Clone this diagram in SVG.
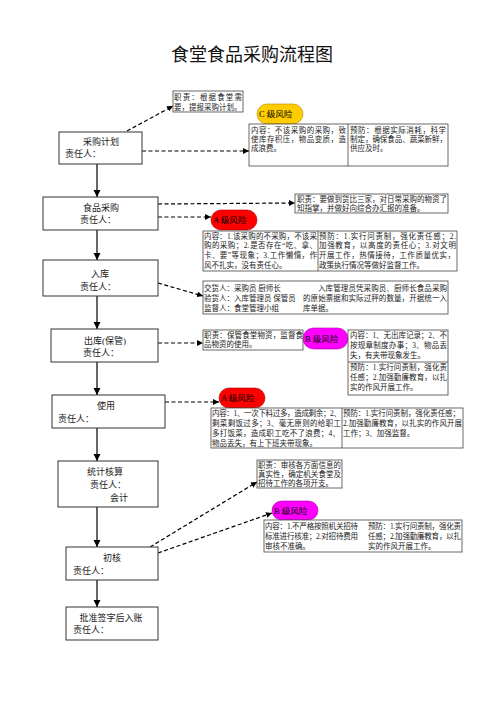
<svg xmlns="http://www.w3.org/2000/svg" width="504" height="713" viewBox="0 0 504 713">
<defs>
<marker id="ah" markerWidth="6" markerHeight="6" refX="6" refY="3" orient="auto" markerUnits="userSpaceOnUse"><path d="M0,0 L6,3 L0,6 z" fill="#000"/></marker>
<marker id="av" markerWidth="8" markerHeight="8" refX="7" refY="4" orient="auto" markerUnits="userSpaceOnUse"><path d="M0,0.5 L7,4 L0,7.5 z" fill="#000"/></marker>
</defs>
<style>
.t{font-family:'Liberation Serif','Noto Sans CJK SC',serif;fill:#222}
.title{font-size:18px;fill:#111}
.lbl{font-size:9px}
.s{font-size:7.5px}
.p{font-size:8.5px;fill:#000}
.box{fill:#fff;stroke:#333;stroke-width:1}
.tbl{fill:#fff;stroke:#444;stroke-width:0.8}
.div{stroke:#444;stroke-width:0.8}
.dash{stroke:#000;stroke-width:1.2;stroke-dasharray:4 2.5;fill:none;marker-end:url(#ah)}
.flow{stroke:#666;stroke-width:2;fill:none;marker-end:url(#av)}
.pc{fill:#FFCC00;stroke:#b08a00;stroke-width:0.6}
.pa{fill:#FF0000;stroke:#a00;stroke-width:0.6}
.pb{fill:#FF00FF;stroke:#a0a;stroke-width:0.6}
</style>
<rect width="504" height="713" fill="#fff"/>
<text class="t title" x="252" y="61" text-anchor="middle">食堂食品采购流程图</text>

<g id="connectors">
<line class="flow" x1="97" y1="164" x2="97" y2="197"/>
<line class="flow" x1="97" y1="230" x2="97" y2="260"/>
<line class="flow" x1="97" y1="296" x2="97" y2="329"/>
<line class="flow" x1="97" y1="362" x2="97" y2="395"/>
<line class="flow" x1="97" y1="428" x2="97" y2="461"/>
<line class="flow" x1="97" y1="507" x2="97" y2="547"/>
<line class="flow" x1="97" y1="580" x2="97" y2="607"/>
<line class="dash" x1="127" y1="131" x2="173" y2="106"/>
<line class="dash" x1="142" y1="151" x2="249" y2="151"/>
<line class="dash" x1="158" y1="204" x2="295" y2="203"/>
<line class="dash" x1="158" y1="217" x2="211" y2="217"/>
<line class="dash" x1="158" y1="283" x2="203" y2="296"/>
<line class="dash" x1="158" y1="343" x2="203" y2="343"/>
<line class="dash" x1="165" y1="402" x2="219" y2="402"/>
<line class="dash" x1="150" y1="547" x2="257" y2="482"/>
<line class="dash" x1="158" y1="553" x2="272" y2="513"/>
</g>

<g id="n-plan">
<rect class="box" x="59" y="132" width="83" height="32"/>
<text class="t lbl" x="101" y="145" text-anchor="middle">采购计划</text>
<text class="t lbl" x="65" y="157">责任人：</text>
</g>
<g id="n-buy">
<rect class="box" x="43" y="197" width="115" height="33"/>
<text class="t lbl" x="101" y="211" text-anchor="middle">食品采购</text>
<text class="t lbl" x="98" y="223" text-anchor="middle">责任人：</text>
</g>
<g id="n-in">
<rect class="box" x="43" y="260" width="115" height="36"/>
<text class="t lbl" x="100" y="277" text-anchor="middle">入库</text>
<text class="t lbl" x="98" y="290" text-anchor="middle">责任人：</text>
</g>
<g id="n-out">
<rect class="box" x="51" y="329" width="107" height="33"/>
<text class="t lbl" x="105" y="344" text-anchor="middle">出库(保管)</text>
<text class="t lbl" x="101" y="356" text-anchor="middle">责任人：</text>
</g>
<g id="n-use">
<rect class="box" x="52" y="395" width="113" height="33"/>
<text class="t lbl" x="106" y="409" text-anchor="middle">使用</text>
<text class="t lbl" x="58" y="422">责任人：</text>
</g>
<g id="n-stat">
<rect class="box" x="58" y="461" width="100" height="46"/>
<text class="t lbl" x="105" y="475" text-anchor="middle">统计核算</text>
<text class="t lbl" x="90" y="488">责任人：</text>
<text class="t lbl" x="110" y="501">会计</text>
</g>
<g id="n-check">
<rect class="box" x="66" y="547" width="92" height="33"/>
<text class="t lbl" x="112" y="561" text-anchor="middle">初核</text>
<text class="t lbl" x="73" y="574">责任人：</text>
</g>
<g id="n-approve">
<rect class="box" x="66" y="607" width="92" height="33"/>
<text class="t lbl" x="111" y="621" text-anchor="middle">批准签字后入账</text>
<text class="t lbl" x="73" y="633">责任人：</text>
</g>

<g id="duty-plan">
<rect class="tbl" x="173" y="91" width="70" height="21"/>
<text class="t s" x="174" y="100" textLength="68" lengthAdjust="spacing">职责：根据食堂需</text>
<text class="t s" x="174" y="110">要，提报采购计划。</text>
</g>
<g id="risk-c">
<rect class="pc" x="257" y="104" width="46" height="20" rx="10"/>
<text class="t p" x="259" y="117">C 级风险</text>
</g>
<g id="table-c">
<rect class="tbl" x="249" y="124" width="199" height="42"/>
<line class="div" x1="348" y1="124" x2="348" y2="166"/>
<text class="t s" x="251" y="133" textLength="95" lengthAdjust="spacing">内容：不该采购的采购，致</text>
<text class="t s" x="251" y="142" textLength="95" lengthAdjust="spacing">使库存积压，物品变质，造</text>
<text class="t s" x="251" y="151">成浪费。</text>
<text class="t s" x="350" y="133" textLength="96" lengthAdjust="spacing">预防：根据实际消耗，科学</text>
<text class="t s" x="350" y="142" textLength="97" lengthAdjust="spacing">制定，确保食品、蔬菜新鲜，</text>
<text class="t s" x="350" y="151">供应及时。</text>
</g>

<g id="duty-buy">
<rect class="tbl" x="295" y="194" width="153" height="19"/>
<text class="t s" x="297" y="202" textLength="150" lengthAdjust="spacing">职责：要做到货比三家，对日常采购的物资了</text>
<text class="t s" x="297" y="211">知指掌，并做好向综合办汇报的准备。</text>
</g>
<g id="risk-a1">
<rect class="pa" x="211" y="210" width="46" height="20" rx="10"/>
<text class="t p" x="213" y="223">A 级风险</text>
</g>
<g id="table-a1">
<rect class="tbl" x="203" y="231" width="254" height="40"/>
<line class="div" x1="318" y1="231" x2="318" y2="271"/>
<text class="t s" x="204" y="239" textLength="113" lengthAdjust="spacing">内容：1.该采购的不采购，不该采</text>
<text class="t s" x="204" y="248" textLength="113" lengthAdjust="spacing">购的采购；2.是否存在“吃、拿、</text>
<text class="t s" x="204" y="258" textLength="113" lengthAdjust="spacing">卡、要”等现象；3.工作懒惰，作</text>
<text class="t s" x="204" y="268">风不扎实，没有责任心。</text>
<text class="t s" x="319" y="239" textLength="137" lengthAdjust="spacing">预防：1.实行问责制，强化责任感；2.</text>
<text class="t s" x="319" y="248" textLength="137" lengthAdjust="spacing">加强教育，以高度的责任心；3.对文明</text>
<text class="t s" x="319" y="258" textLength="136" lengthAdjust="spacing">开展工作，热情接待，工作质量优实，</text>
<text class="t s" x="319" y="268">政策执行情况等做好监督工作。</text>
</g>

<g id="table-in">
<rect class="tbl" x="203" y="281" width="245" height="33"/>
<text class="t s" x="204" y="291">交货人：采购员 厨师长</text>
<text class="t s" x="318" y="291" textLength="129" lengthAdjust="spacing">入库管理员凭采购员、厨师长食品采购</text>
<text class="t s" x="204" y="301">验货人：入库管理员 保管员</text>
<text class="t s" x="303" y="301" textLength="144" lengthAdjust="spacing">的原始票据和实际过秤的数量，开据统一入</text>
<text class="t s" x="204" y="311">监督人：食堂管理小组</text>
<text class="t s" x="303" y="311">库单据。</text>
</g>

<g id="duty-out">
<rect class="tbl" x="203" y="330" width="100" height="20"/>
<text class="t s" x="204" y="338" textLength="99" lengthAdjust="spacing">职责：保管食堂物资，监督食</text>
<text class="t s" x="204" y="347">品物资的使用。</text>
</g>
<g id="risk-b1">
<rect class="pb" x="303" y="328" width="45" height="21" rx="10.5"/>
<text class="t p" x="305" y="342">B 级风险</text>
</g>
<g id="table-b1">
<rect class="tbl" x="348" y="330" width="100" height="65"/>
<line class="div" x1="348" y1="362" x2="448" y2="362"/>
<text class="t s" x="350" y="338" textLength="97" lengthAdjust="spacing">内容：1、无出库记录；2、不</text>
<text class="t s" x="350" y="348" textLength="97" lengthAdjust="spacing">按规章制度办事；3、物品丢</text>
<text class="t s" x="350" y="358">失，有夹带现象发生。</text>
<text class="t s" x="350" y="370" textLength="97" lengthAdjust="spacing">预防：1.实行问责制，强化责</text>
<text class="t s" x="350" y="380" textLength="97" lengthAdjust="spacing">任感；2.加强勤廉教育，以扎</text>
<text class="t s" x="350" y="390">实的作风开展工作。</text>
</g>

<g id="risk-a2">
<rect class="pa" x="219" y="388" width="46" height="20" rx="10"/>
<text class="t p" x="221" y="401">A 级风险</text>
</g>
<g id="table-a2">
<rect class="tbl" x="211" y="408" width="252" height="40"/>
<line class="div" x1="342" y1="408" x2="342" y2="448"/>
<text class="t s" x="212" y="416" textLength="129" lengthAdjust="spacing">内容：1、一次下料过多，造成剩余；2、</text>
<text class="t s" x="212" y="426" textLength="129" lengthAdjust="spacing">剩菜剩饭过多；3、毫无原则的给职工</text>
<text class="t s" x="212" y="436" textLength="128" lengthAdjust="spacing">多打饭菜，造成职工吃不了浪费；4、</text>
<text class="t s" x="212" y="446">物品丢失，有上下班夹带现象。</text>
<text class="t s" x="343" y="416" textLength="117" lengthAdjust="spacing">预防：1.实行问责制，强化责任感；</text>
<text class="t s" x="343" y="426" textLength="119" lengthAdjust="spacing">2.加强勤廉教育，以扎实的作风开展</text>
<text class="t s" x="343" y="436">工作；3、加强监督。</text>
</g>

<g id="duty-stat">
<rect class="tbl" x="257" y="460" width="85" height="28"/>
<text class="t s" x="258" y="468" textLength="83" lengthAdjust="spacing">职责：审核各方面信息的</text>
<text class="t s" x="258" y="477" textLength="83" lengthAdjust="spacing">真实性，确定机关食堂及</text>
<text class="t s" x="258" y="486">招待工作的各项开支。</text>
</g>
<g id="risk-b2">
<rect class="pb" x="272" y="501" width="46" height="19" rx="9.5"/>
<text class="t p" x="274" y="514">B 级风险</text>
</g>
<g id="table-b2">
<rect class="tbl" x="264" y="520" width="198" height="32"/>
<text class="t s" x="265" y="529" textLength="93" lengthAdjust="spacing">内容：1.不严格按照机关招待</text>
<text class="t s" x="265" y="539" textLength="93" lengthAdjust="spacing">标准进行核准；2.对招待费用</text>
<text class="t s" x="265" y="549">审核不准确。</text>
<text class="t s" x="368" y="529" textLength="93" lengthAdjust="spacing">预防：1.实行问责制，强化责</text>
<text class="t s" x="368" y="539" textLength="93" lengthAdjust="spacing">任感；2.加强勤廉教育，以扎</text>
<text class="t s" x="368" y="549">实的作风开展工作。</text>
</g>
</svg>
